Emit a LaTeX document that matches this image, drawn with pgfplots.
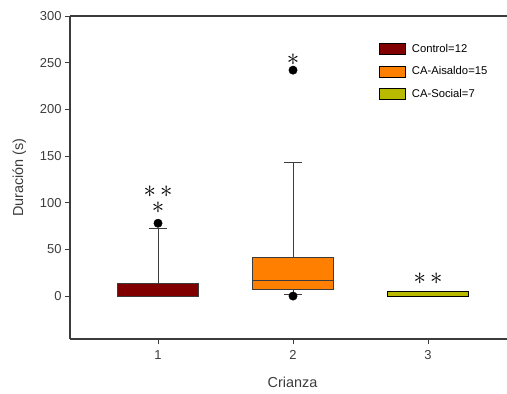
\documentclass[border=0pt]{standalone}
\usepackage{fontspec}
\setmainfont{Liberation Sans}
\usepackage{pgfplots}
\pgfplotsset{compat=1.18}
\usetikzlibrary{calc}
\definecolor{c1}{RGB}{128,0,0}
\definecolor{c2}{RGB}{255,128,0}
\definecolor{c3}{RGB}{185,185,0}
\definecolor{axc}{RGB}{60,60,60}
\begin{document}
\begin{tikzpicture}
\begin{axis}[
  scale only axis, width=437bp, height=323bp,
  xmin=0.348, xmax=3.585, ymin=-46, ymax=300,
  axis x line*=bottom, axis y line*=left,
  axis line style={axc, line width=1.1bp},
  tick align=outside,
  xtick={1,2,3}, ytick={0,50,...,300},
  major tick length=5bp,
  tick style={axc, line width=0.8bp},
  ticklabel style={font=\fontsize{13}{15}\selectfont, text=axc},
  xticklabel style={yshift=-3bp},
  /pgf/number format/assume math mode=true,
  xlabel={Crianza}, ylabel={Duración (s)},
  label style={font=\fontsize{14.5}{16}\selectfont, text=axc},
  xlabel style={at={(rel axis cs:0.5,0)}, anchor=center, xshift=4bp, yshift=-43bp},
  ylabel shift=7bp,
  legend style={at={(rel axis cs:0.707,0.92)}, anchor=north west, draw=none, fill=none,
    font=\fontsize{11.3}{13}\selectfont, row sep=9bp, inner sep=0pt,
    /tikz/every odd column/.append style={column sep=4bp}},
  legend cell align=left,
  legend image code/.code={\draw[#1] (0bp,-5.5bp) rectangle (26bp,5.5bp);},
]
% whiskers
\addplot[axc, line width=0.8bp, forget plot] coordinates {(1,13.5) (1,73)};
\addplot[axc, line width=0.8bp, forget plot] coordinates {(0.93,73) (1.07,73)};
\addplot[axc, line width=0.8bp, forget plot] coordinates {(2,41.4) (2,143)};
\addplot[axc, line width=0.8bp, forget plot] coordinates {(1.93,143) (2.07,143)};
\addplot[axc, line width=0.8bp, forget plot] coordinates {(2,7.5) (2,2)};
\addplot[axc, line width=0.8bp, forget plot] coordinates {(1.93,2) (2.07,2)};
% boxes
\addplot[draw=axc, line width=0.8bp, fill=c1, forget plot] coordinates {(0.7,0) (1.3,0) (1.3,13.5) (0.7,13.5)} -- cycle;
\addplot[draw=axc, line width=0.8bp, fill=c2, forget plot] coordinates {(1.7,7.5) (2.3,7.5) (2.3,41.4) (1.7,41.4)} -- cycle;
\addplot[draw=axc, line width=0.8bp, forget plot] coordinates {(1.7,16.8) (2.3,16.8)};
\addplot[draw=black, line width=0.8bp, fill=c3, forget plot] coordinates {(2.7,0) (3.3,0) (3.3,5) (2.7,5)} -- cycle;
% outliers
\addplot[only marks, mark=*, mark size=4.2bp, mark options={black, fill=black}, forget plot] coordinates {(1,78) (2,242) (2,0)};
\addlegendimage{draw=black, line width=0.8bp, fill=c1}
\addlegendentry{Control=12}
\addlegendimage{draw=black, line width=0.8bp, fill=c2}
\addlegendentry{CA-Aisaldo=15}
\addlegendimage{draw=black, line width=0.8bp, fill=c3}
\addlegendentry{CA-Social=7}
\draw[axc, line width=1.1bp] (rel axis cs:0,1) -- (rel axis cs:1,1);
\node[font=\fontsize{28}{16}\selectfont, inner sep=0pt, align=center] at (axis cs:1,103) {${\ast}\hspace{4bp}{\ast}$\\$\ast$};
\node[font=\fontsize{28}{28}\selectfont, inner sep=0pt] at (axis cs:2,253) {$\ast$};
\node[font=\fontsize{28}{28}\selectfont, inner sep=0pt] at (axis cs:3,19) {${\ast}\hspace{4bp}{\ast}$};
\end{axis}
\pgfresetboundingbox
\path ($(current axis.south west)+(-70bp,-55bp)$) rectangle ($(current axis.north east)+(0bp,16bp)$);
\end{tikzpicture}
\end{document}
